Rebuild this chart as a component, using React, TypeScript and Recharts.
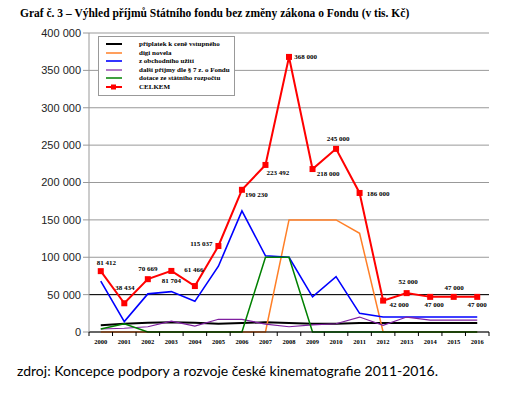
import React from 'react';
import { LineChart, Line, XAxis, YAxis, CartesianGrid, ReferenceLine, LabelList } from 'recharts';

const years = ['2000','2001','2002','2003','2004','2005','2006','2007','2008','2009','2010','2011','2012','2013','2014','2015','2016'];
const priplatek = [9000, 11000, 12400, 13000, 12400, 11000, 12000, 13000, 12000, 11000, 11000, 12000, 12000, 12000, 12000, 12000, 12000];
const digiNovela = [0, 0, 0, 0, 0, 0, 0, 0, 150000, 150000, 150000, 132000, 0, 0, 0, 0, 0];
const obchodni = [68000, 14000, 51000, 54000, 41000, 88000, 162000, 102000, 100000, 47000, 74000, 25000, 20000, 20000, 20000, 20000, 20000];
const dalsi = [4000, 5000, 7000, 14500, 8000, 17000, 17000, 10500, 7000, 9500, 11000, 20000, 9000, 20000, 16000, 16000, 16000];
const dotace = [4000, 11000, 0, 0, 0, 0, 0, 100000, 100000, 0, 0, 0, 0, 0, 0, 0, 0];
const celkem = [81412, 38434, 70669, 81704, 61466, 115037, 190230, 223492, 368000, 218000, 245000, 186000, 42000, 52000, 47000, 47000, 47000];
const yTicks = [0, 50000, 100000, 150000, 200000, 250000, 300000, 350000, 400000];

const seriesKeys = ['priplatek', 'digi', 'obchod', 'dalsi', 'dotace', 'celkem'];
const seriesNames = [
  'příplatek k ceně vstupného',
  'digi novela',
  'z obchodního užití',
  'další příjmy dle § 7 z. o  Fondu',
  'dotace ze státního rozpočtu',
  'CELKEM',
];
const seriesColors = ['#000000', '#ff7f27', '#0000ff', '#7f1fa0', '#008000', '#ff0000'];
const seriesWidths = [2, 1.5, 1.6, 1.2, 1.5, 2];

const data = years.map((y, i) => ({
  year: y,
  priplatek: priplatek[i],
  digi: digiNovela[i],
  obchod: obchodni[i],
  dalsi: dalsi[i],
  dotace: dotace[i],
  celkem: celkem[i],
}));

// label placement (style) for CELKEM values, offsets from the point
const labelOffsets = [
  [5.5, -8], [0.5, -15], [0, -10], [0, 10], [-1, -16], [-17, -2], [14.5, 5], [12.5, 8],
  [16.5, 0], [15.5, 5], [2, -10], [18.5, 1], [16, 4], [1.5, -11], [4, 8], [0.5, -9], [0, 8],
];

const W = 521;
const H = 397;
const M = { top: 33, right: 32, bottom: 45, left: 0 };
const Y_W = 89;
const PLOT_W = W - M.left - M.right - Y_W;
const BAND = PLOT_W / years.length;

const fmt = (v: number) => {
  const s = String(Math.round(v));
  return s.replace(/\B(?=(\d{3})+(?!\d))/g, ' ');
};

const XTick = (props: any) => {
  const { x, y, payload, index } = props;
  const axisY = y - 6;
  return (
    <g>
      <line x1={x - BAND / 2} x2={x - BAND / 2} y1={axisY} y2={axisY + 4} stroke="#000" strokeWidth={1} />
      {index === years.length - 1 && (
        <line x1={x + BAND / 2} x2={x + BAND / 2} y1={axisY} y2={axisY + 4} stroke="#000" strokeWidth={1} />
      )}
      <text x={x} y={y + 3} textAnchor="middle" dominantBaseline="central" fontFamily="'Liberation Serif', serif" fontWeight="bold" fontSize={6.5} fill="#000">
        {payload.value}
      </text>
    </g>
  );
};

const SquareDot = (props: any) => {
  const { cx, cy } = props;
  if (cx == null || cy == null) return null;
  return <rect x={cx - 3} y={cy - 3} width={6} height={6} fill="#ff0000" />;
};

const CelkemLabel = (props: any) => {
  const { x, y, value, index } = props;
  const [dx, dy] = labelOffsets[index] || [0, -10];
  return (
    <text x={x + dx} y={y + dy} textAnchor="middle" dominantBaseline="central" fontFamily="'Liberation Serif', serif" fontWeight="bold" fontSize={7} fill="#000">
      {fmt(value)}
    </text>
  );
};

const LegendBox = () => (
  <div style={{ position: 'absolute', left: 98, top: 36, width: 135, height: 58, border: '1px solid #999', background: '#fff' }}>
    {seriesKeys.map((k, i) => (
      <div key={k} style={{ position: 'absolute', left: 0, top: 3 + i * 8.6, height: 8, width: 134 }}>
        <svg width={30} height={8} style={{ position: 'absolute', left: 6, top: 0 }}>
          <line x1={1} x2={17} y1={4} y2={4} stroke={seriesColors[i]} strokeWidth={seriesWidths[i]} />
          {k === 'celkem' && <rect x={6} y={1.5} width={5} height={5} fill="#ff0000" />}
        </svg>
        <span style={{ position: 'absolute', left: 40, top: 0, fontFamily: "'Liberation Serif', serif", fontSize: 7, lineHeight: '8px', color: '#000', whiteSpace: 'nowrap', fontWeight: 'bold' }}>
          {seriesNames[i]}
        </span>
      </div>
    ))}
  </div>
);

export default function App() {
  return (
    <div style={{ position: 'absolute', left: 0, top: 0, width: W, height: H, background: '#fff' }}>
      <div style={{ position: 'absolute', left: 20, top: 7, fontFamily: "'Liberation Serif', serif", fontWeight: 'bold', fontSize: 11.5, whiteSpace: 'nowrap', color: '#000' }}>
        Graf č. 3 – Výhled příjmů Státního fondu bez změny zákona o Fondu (v tis. Kč)
      </div>
      <div style={{ position: 'absolute', left: 0, top: 0 }}>
        <LineChart width={W} height={H} data={data} margin={M}>
          <CartesianGrid horizontal={true} vertical={false} stroke="#999" strokeWidth={1} />
          <XAxis xAxisId="top" dataKey="year" orientation="top" height={0} tick={false} tickLine={false} padding={{ left: BAND / 2, right: BAND / 2 }} axisLine={{ stroke: '#000', strokeWidth: 1 }} />
          <XAxis dataKey="year" height={20} tickLine={false} tickSize={4} tickMargin={2} padding={{ left: BAND / 2, right: BAND / 2 }} axisLine={{ stroke: '#000', strokeWidth: 1 }} tick={<XTick />} interval={0} />
          <YAxis
            domain={[0, 400000]}
            ticks={yTicks}
            width={Y_W}
            tickFormatter={fmt}
            tickSize={6}
            tickMargin={2}
            axisLine={{ stroke: '#999' }}
            tickLine={{ stroke: '#999' }}
            tick={{ fill: '#222', fontSize: 11, fontFamily: "'Liberation Sans', Arial, sans-serif" }}
            interval={0}
          />
          <YAxis yAxisId="right" orientation="right" domain={[0, 400000]} width={0} tick={false} tickLine={false} axisLine={{ stroke: '#999' }} />
          <ReferenceLine y={50000} stroke="#000" strokeWidth={1} />
          {seriesKeys.map((k, i) => (
            k === 'celkem' ? (
              <Line key={k} dataKey={k} name={seriesNames[i]} stroke={seriesColors[i]} strokeWidth={seriesWidths[i]} dot={<SquareDot />} isAnimationActive={false}>
                <LabelList dataKey={k} content={<CelkemLabel />} />
              </Line>
            ) : (
              <Line key={k} dataKey={k} name={seriesNames[i]} stroke={seriesColors[i]} strokeWidth={seriesWidths[i]} dot={false} isAnimationActive={false} />
            )
          ))}
        </LineChart>
      </div>
      <LegendBox />
      <div style={{ position: 'absolute', left: 17, top: 362, fontFamily: "Lato, 'Noto Sans', sans-serif", fontSize: 14, whiteSpace: 'nowrap', color: '#000' }}>
        zdroj: Koncepce podpory a rozvoje české kinematografie 2011-2016.
      </div>
    </div>
  );
}
